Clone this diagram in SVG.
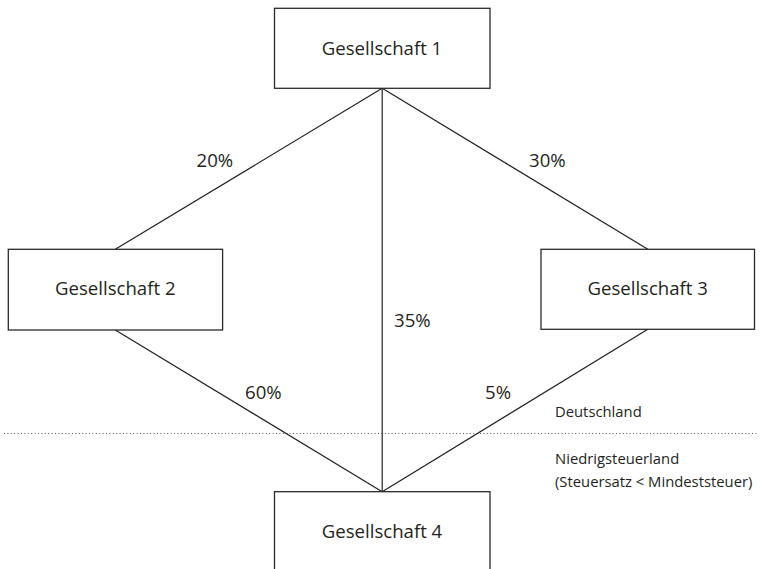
<svg xmlns="http://www.w3.org/2000/svg" width="764" height="569" viewBox="0 0 764 569">
<style>
.box{fill:#fff;stroke:#2a2a2a;stroke-width:1.3}
.lbl{font-family:"Open Sans","Liberation Sans",sans-serif;font-size:18.6px;fill:#231f20;text-anchor:middle}
.pct{font-family:"Open Sans","Liberation Sans",sans-serif;font-size:18.6px;fill:#231f20}
.sm{font-family:"Open Sans","Liberation Sans",sans-serif;font-size:14.8px;fill:#231f20}
.edge{stroke:#231f20;stroke-width:1.2;fill:none}
</style>
<rect width="764" height="569" fill="#fff"/>
<line x1="4" y1="433.5" x2="758" y2="433.5" stroke="#555" stroke-width="1" stroke-dasharray="1 2.4"/>
<g id="connectors">
<line class="edge" x1="382.2" y1="88.3" x2="115.3" y2="249.3"/>
<line class="edge" x1="382.2" y1="88.3" x2="647.8" y2="249.3"/>
<line class="edge" x1="382.2" y1="88.3" x2="382.2" y2="491.7"/>
<line class="edge" x1="115.3" y1="330" x2="382.2" y2="491.7"/>
<line class="edge" x1="647.8" y1="329.3" x2="382.2" y2="491.7"/>
</g>
<g id="n1"><rect class="box" x="274.5" y="8.3" width="215.5" height="80"/><text class="lbl" x="382" y="55">Gesellschaft 1</text></g>
<g id="n2"><rect class="box" x="8.3" y="249.3" width="214.3" height="80.7"/><text class="lbl" x="115.3" y="294.5">Gesellschaft 2</text></g>
<g id="n3"><rect class="box" x="541" y="249.3" width="213.5" height="80"/><text class="lbl" x="647.7" y="295">Gesellschaft 3</text></g>
<g id="n4"><rect class="box" x="274.5" y="491.7" width="215.5" height="80"/><text class="lbl" x="382" y="538">Gesellschaft 4</text></g>
<g id="labels">
<text class="pct" x="196.5" y="166.7">20%</text>
<text class="pct" x="529" y="166.7">30%</text>
<text class="pct" x="394" y="326.7">35%</text>
<text class="pct" x="245" y="399">60%</text>
<text class="pct" x="485" y="399">5%</text>
<text class="sm" x="555" y="416.7">Deutschland</text>
<text class="sm" x="555" y="464">Niedrigsteuerland</text>
<text class="sm" x="555" y="486.5">(Steuersatz &lt; Mindeststeuer)</text>
</g>
</svg>
